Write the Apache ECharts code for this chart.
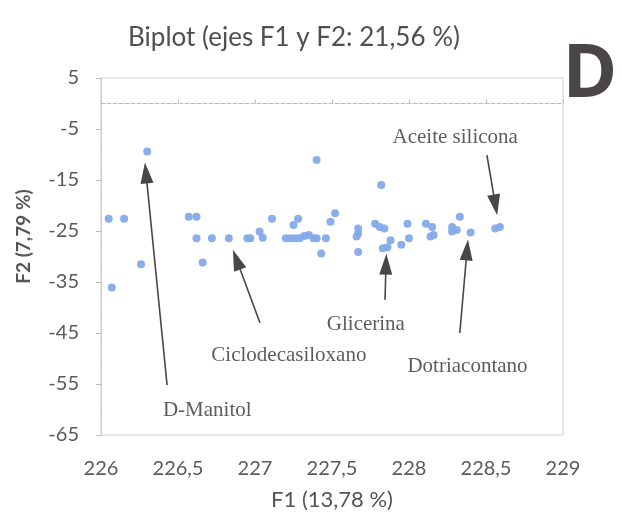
<!DOCTYPE html>
<html>
<head>
<meta charset="utf-8">
<script src="https://cdn.jsdelivr.net/npm/echarts@6/dist/echarts.min.js"></script>
<style>html,body{margin:0;padding:0;background:#fff;}#c{width:622px;height:527px;}</style>
</head>
<body>
<div id="c"></div>
<script>
// F1 (x) and F2 (y) scores
const f1 = [226.30,226.05,226.15,226.26,226.07,226.57,226.62,226.62,226.66,226.72,226.83,226.95,226.97,227.03,227.05,227.11,227.20,227.23,227.26,227.29,227.32,227.35,227.38,227.40,227.46,227.25,227.28,227.40,227.43,227.49,227.52,227.67,227.67,227.66,227.67,227.82,227.78,227.81,227.84,227.88,227.86,227.83,227.95,228.00,227.99,228.11,228.15,228.16,228.14,228.28,228.31,228.28,228.33,228.40,228.56,228.59];
const f2 = [-9.4,-22.6,-22.6,-31.5,-36.1,-22.2,-22.2,-26.4,-31.2,-26.4,-26.4,-26.4,-26.4,-25.1,-26.3,-22.6,-26.4,-26.4,-26.4,-26.4,-26.0,-25.8,-26.4,-26.4,-26.4,-23.8,-22.6,-11.1,-29.4,-23.2,-21.5,-24.5,-25.5,-26.1,-29.1,-16.0,-23.6,-24.2,-24.5,-26.8,-28.2,-28.4,-27.7,-26.4,-23.6,-23.6,-24.2,-25.8,-26.1,-24.2,-24.8,-25.1,-22.2,-25.3,-24.5,-24.2];

// annotations
const annNames = ['D-Manitol','Ciclodecasiloxano','Glicerina','Dotriacontano','Aceite silicona'];
const annTextX = [226.69, 227.22, 227.72, 228.38, 228.30];
const annTextY = [-60.1, -49.5, -43.4, -51.5, -6.6];
const arrowFromX = [226.429, 227.032, 227.844, 228.33, 228.506];
const arrowFromY = [-55.2, -43.0, -38.5, -45.0, -10.1];
const arrowToX = [226.292, 226.880, 227.851, 228.377, 228.561];
const arrowToY = [-13.6, -30.6, -31.5, -28.7, -19.9];

const yTicks = [5, -5, -15, -25, -35, -45, -55, -65];

const fmt = v => String(v).replace('.', ',');

const chart = echarts.init(document.getElementById('c'), null, {renderer: 'canvas'});
const axisFont = {fontFamily: 'Lato', fontSize: 20, color: '#5a5a5a'};

chart.setOption({
  animation: false,
  backgroundColor: '#fff',
  title: [
    {text: 'Biplot (ejes F1 y F2: 21,56 %)', left: 289, top: 20, textAlign: 'center',
     textStyle: {fontFamily: 'Lato', fontSize: 26, fontWeight: 'normal', color: '#505050'}},
    {text: 'D', left: 585, top: 34, textAlign: 'center',
     textStyle: {fontFamily: 'Open Sans', fontSize: 74, fontWeight: 'bold', color: '#4a4546'}}
  ],
  grid: {left: 101, right: 59, top: 78, bottom: 92, show: true, borderColor: '#cfcfcf', borderWidth: 1, backgroundColor: 'transparent'},
  xAxis: [
    {type: 'value', min: 226, max: 229, interval: 0.5, position: 'bottom',
     axisLine: {show: false, onZero: false}, axisTick: {show: false}, splitLine: {show: false},
     axisLabel: Object.assign({margin: 24, formatter: fmt}, axisFont),
     name: 'F1 (13,78 %)', nameLocation: 'middle', nameGap: 54,
     nameTextStyle: {fontFamily: 'Lato', fontSize: 22, color: '#555'}},
    {type: 'value', min: 226, max: 229, interval: 0.5, position: 'top',
     axisLine: {show: true, onZero: true, onZeroAxisIndex: 0, lineStyle: {color: '#bdbdbd', type: 'dashed', width: 1}},
     axisTick: {show: true, inside: false, length: 4, lineStyle: {color: '#bdbdbd'}},
     axisLabel: {show: false}, splitLine: {show: false}}
  ],
  yAxis: [
    {type: 'value', min: -65, max: 5, position: 'left',
     axisLine: {show: true, onZero: false, lineStyle: {color: '#c8c8c8', type: 'dashed'}},
     axisTick: {show: true, length: 5, customValues: yTicks, lineStyle: {color: '#bdbdbd'}},
     axisLabel: Object.assign({margin: 22, customValues: yTicks}, axisFont),
     splitLine: {show: false},
     name: 'F2 (7,79 %)', nameLocation: 'middle', nameGap: 68, nameRotate: 90,
     nameTextStyle: {fontFamily: 'Lato', fontSize: 19, fontWeight: 'bold', color: '#555', padding: [0, 0, 0, 40]}}
  ],
  series: [
    {type: 'scatter', xAxisIndex: 0, yAxisIndex: 0, symbolSize: 8,
     itemStyle: {color: '#84aaea', opacity: 0.95},
     data: f1.map((x, i) => [x, f2[i]]),
     markLine: {
       silent: true, animation: false,
       symbol: ['none', 'triangle'], symbolSize: [13, 21],
       lineStyle: {color: '#4a4546', width: 1.6, type: 'solid'},
       label: {show: false},
       data: annNames.map((n, i) => [{coord: [arrowFromX[i], arrowFromY[i]]}, {coord: [arrowToX[i], arrowToY[i]]}])
     }},
    {type: 'scatter', xAxisIndex: 0, yAxisIndex: 0, symbolSize: 0, silent: true,
     data: annNames.map((n, i) => ({name: n, value: [annTextX[i], annTextY[i]]})),
     label: {show: true, position: 'inside', formatter: p => p.name,
       fontFamily: 'Liberation Serif', fontSize: 21, color: '#333'}}
  ]
});
</script>
</body>
</html>
